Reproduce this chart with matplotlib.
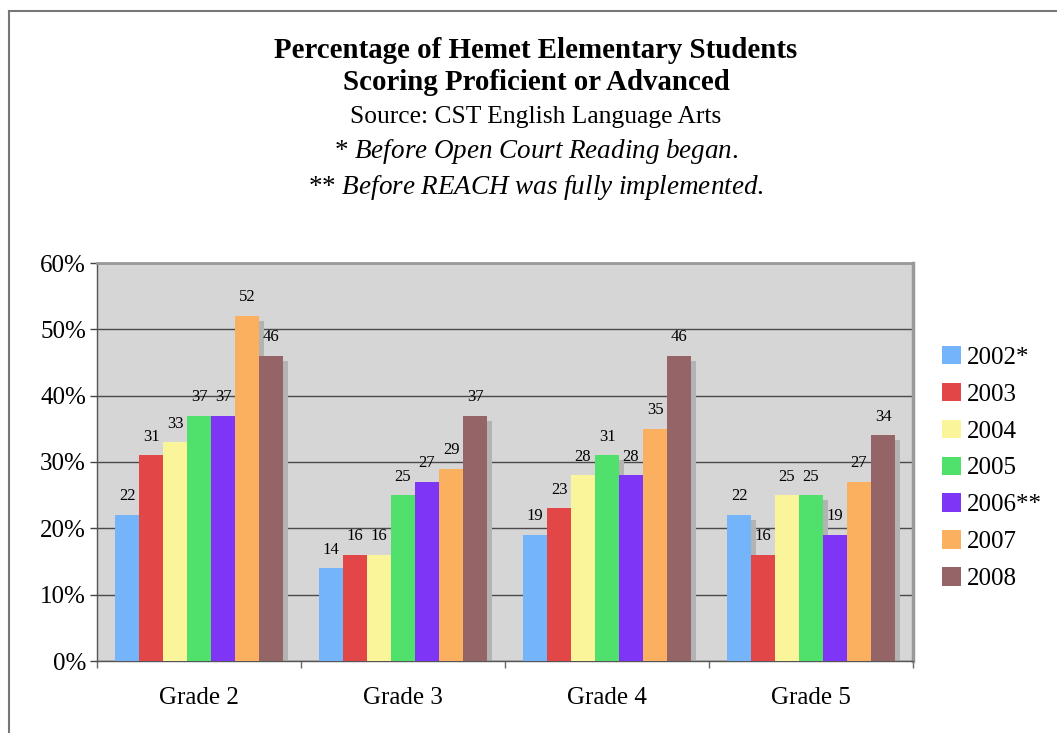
import matplotlib
matplotlib.use("Agg")
import matplotlib.pyplot as plt
import matplotlib.transforms as mtransforms
from matplotlib.lines import Line2D
from matplotlib.patches import Patch
import numpy as np

plt.rcParams['font.family'] = ['Liberation Serif', 'DejaVu Serif']
plt.rcParams['mathtext.fontset'] = 'custom'
plt.rcParams['mathtext.rm'] = 'Liberation Serif'
plt.rcParams['mathtext.it'] = 'Liberation Serif:italic'

grades = ["Grade 2", "Grade 3", "Grade 4", "Grade 5"]
years = ["2002*", "2003", "2004", "2005", "2006**", "2007", "2008"]
y2002 = [22, 14, 19, 22]
y2003 = [31, 16, 23, 16]
y2004 = [33, 16, 28, 25]
y2005 = [37, 25, 31, 25]
y2006 = [37, 27, 28, 19]
y2007 = [52, 29, 35, 27]
y2008 = [46, 37, 46, 34]
series = [y2002, y2003, y2004, y2005, y2006, y2007, y2008]
colors = ["#74b4fa", "#e24646", "#faf59b", "#50e06c", "#7f35f6", "#fab05e", "#946466"]

W, H = 1057, 733
fig = plt.figure(figsize=(W / 100, H / 100), dpi=100)
ax = fig.add_axes([97 / W, 1 - 661 / H, (913 - 97) / W, (661 - 263) / H])
ax.set_facecolor("#d6d6d6")

x = np.arange(len(grades))
bw = 24 / 204
shadow = mtransforms.offset_copy(ax.transData, fig=fig, x=5, y=-5, units='dots')
for i, (vals, c) in enumerate(zip(series, colors)):
    pos = x + (i - 3) * bw
    ax.bar(pos, vals, width=bw, color="#b3b3b3", transform=shadow, zorder=2)
    ax.bar(pos, vals, width=bw, color=c, zorder=3)
    for px, v in zip(pos, vals):
        ax.annotate(str(v), (px, v), xytext=(0, 10.5), textcoords="offset points",
                    ha="center", va="baseline", fontsize=12, zorder=4)

ax.set_xlim(-0.5, 3.5)
ax.set_ylim(0, 60)
ax.set_yticks(np.arange(0, 61, 10))
ax.set_yticklabels([f"{t}%" for t in range(0, 61, 10)], fontsize=18)
ax.set_xticks(x)
ax.set_xticklabels(grades, fontsize=18)
ax.tick_params(axis='x', length=0, pad=19)
ax.set_xticks(np.arange(-0.5, 3.6, 1), minor=True)
ax.tick_params(axis='x', which='minor', length=5, color="#666666", width=1)
ax.tick_params(axis='y', length=5, color="#444444", width=1, pad=3)
ax.yaxis.grid(True, color="#4a4a4a", linewidth=1)
ax.set_axisbelow(True)

for s in ["left", "bottom"]:
    ax.spines[s].set_color("#555555")
    ax.spines[s].set_linewidth(1)
ax.spines["top"].set_color("#999999")
ax.spines["top"].set_linewidth(2)
ax.spines["right"].set_color("#999999")
ax.spines["right"].set_linewidth(2.5)

cx = 536 / W
fig.text(cx, 1 - 50 / H, "Percentage of Hemet Elementary Students", ha="center", va="center",
         fontsize=20.8, fontweight="bold")
fig.text(cx, 1 - 82 / H, "Scoring Proficient or Advanced", ha="center", va="center",
         fontsize=20.8, fontweight="bold")
fig.text(cx, 1 - 117 / H, "Source: CST English Language Arts", ha="center", va="center",
         fontsize=18.4)
fig.text(cx, 1 - 152 / H, r"* $\mathit{Before\ Open\ Court\ Reading\ began}$.", ha="center",
         va="center", fontsize=19.5)
fig.text(cx, 1 - 188 / H, r"** $\mathit{Before\ REACH\ was\ fully\ implemented}$.", ha="center",
         va="center", fontsize=19.5)

handles = [Patch(facecolor=c, edgecolor="none") for c in colors]
fig.legend(handles, years, loc="center left", bbox_to_anchor=(942 / W, 1 - 468 / H),
           frameon=False, fontsize=18, handlelength=0.75, handleheight=0.75,
           handletextpad=0.25, labelspacing=0.56, borderpad=0, borderaxespad=0)

fig.add_artist(Line2D([9 / W, 1], [1 - 11 / H, 1 - 11 / H], color="#777777", linewidth=1.5,
                      transform=fig.transFigure))
fig.add_artist(Line2D([9 / W, 9 / W], [0, 1 - 11 / H], color="#777777", linewidth=1.5,
                      transform=fig.transFigure))

fig.savefig("out.png", dpi=100)
